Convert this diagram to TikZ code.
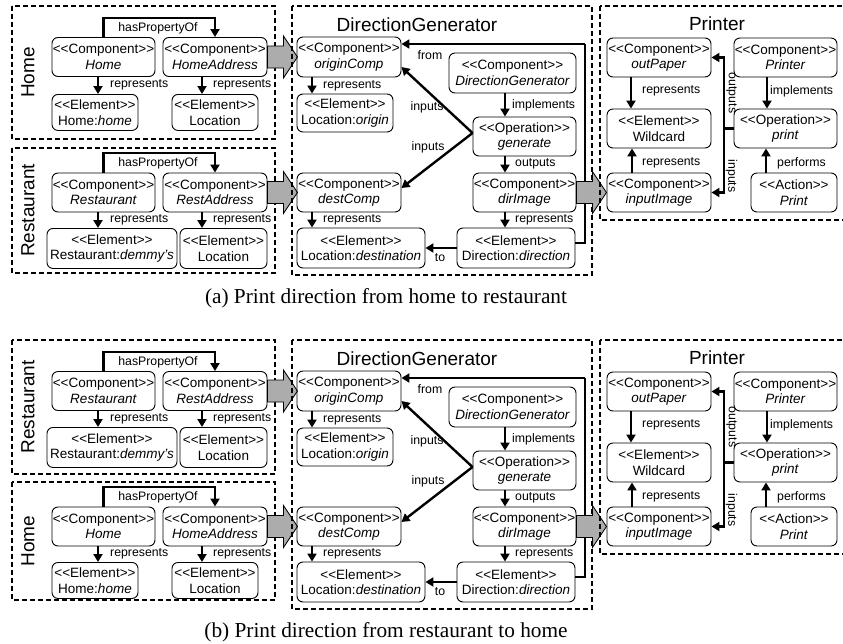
\documentclass[tikz,border=0pt]{standalone}
\usepackage{fontspec}
\setmainfont{Liberation Sans}[Ligatures=TeXOff]
\newfontfamily\capfont{Liberation Serif}
\usetikzlibrary{arrows.meta}
\tikzset{
 nbox/.style={draw, rounded corners=6pt, line width=0.9pt, align=center, inner sep=0pt, font=\fontsize{13.5}{15.5}\selectfont},
 conn/.style={line width=2.4pt, -{Triangle[length=8pt,width=9pt]}},
 plainln/.style={line width=2.4pt},
 thinln/.style={line width=1.2pt},
 lbl/.style={font=\fontsize{12.3}{13}\selectfont, inner sep=0pt},
 dbox/.style={draw, line width=1.8pt, dash pattern=on 5pt off 3pt},
 ttl/.style={font=\fontsize{19}{21}\selectfont, inner sep=0pt},
 barrow/.style={draw, fill=gray!65, line width=0.8pt, line join=miter},
 captxt/.style={font=\capfont\fontsize{21.3}{23}\selectfont, inner sep=0pt},
}
% block arrow from a node east anchor
\newcommand{\BlockArrow}[1]{%
  \draw[barrow] (#1) ++(0,-11) -- ++(16,0) -- ++(0,-10) -- ++(14,21) -- ++(-14,21) -- ++(0,-10) -- ++(-16,0) -- cycle;}
% #1 prefix, #2 box top, #3 box bottom, #4 line y, #5 comp center y, #6 elem top y
\newcommand{\HomePanel}[6]{%
  \draw[dbox] (12,#2) rectangle (275,#3);
  \node[ttl, rotate=90] (#1lab) at (28,{(#2+#3)/2}) {Home};
  \node[nbox, minimum width=103pt, minimum height=39pt] (#1c1) at (103.5,#5) {<<Component>>\\\textit{Home}};
  \node[nbox, minimum width=104pt, minimum height=39pt] (#1c2) at (215,#5) {<<Component>>\\\textit{HomeAddress}};
  \node[nbox, minimum width=86pt, minimum height=36pt, anchor=north] (#1e1) at (95,#6) {<<Element>>\\Home:\textit{home}};
  \node[nbox, minimum width=86pt, minimum height=36pt, anchor=north] (#1e2) at (215,#6) {<<Element>>\\Location};
  \coordinate (#1h1) at (103.5,#4); \coordinate (#1h2) at (215,#4);
  \draw[conn] (#1c1.north) -- (#1h1) -- (#1h2) -- (#1c2.north);
  \node[lbl] (#1hp) at (158,{#4+10}) {hasPropertyOf};
  \draw[conn] ([xshift=-5.5pt]#1c1.south) -- ([xshift=-5.5pt]#1c1.south |- #1e1.north);
  \draw[conn] ([xshift=-13pt]#1c2.south) -- ([xshift=-13pt]#1c2.south |- #1e2.north);
  \node[lbl, anchor=west] (#1r1) at (110,{(#5+19.5+#6)/2}) {represents};
  \node[lbl, anchor=west] (#1r2) at (213,{(#5+19.5+#6)/2}) {represents};
  \BlockArrow{#1c2.east}
}
\newcommand{\RestPanel}[6]{%
  \draw[dbox] (12,#2) rectangle (275,#3);
  \node[ttl, rotate=90] (#1lab) at (28,{(#2+#3)/2}) {Restaurant};
  \node[nbox, minimum width=103pt, minimum height=39pt] (#1c1) at (103.5,#5) {<<Component>>\\\textit{Restaurant}};
  \node[nbox, minimum width=104pt, minimum height=39pt] (#1c2) at (215,#5) {<<Component>>\\\textit{RestAddress}};
  \node[nbox, minimum width=130pt, minimum height=40pt, anchor=north] (#1e1) at (112,#6) {<<Element>>\\Restaurant:\textit{demmy’s}};
  \node[nbox, minimum width=87pt, minimum height=40pt, anchor=north] (#1e2) at (223.5,#6) {<<Element>>\\Location};
  \coordinate (#1h1) at (103.5,#4); \coordinate (#1h2) at (215,#4);
  \draw[conn] (#1c1.north) -- (#1h1) -- (#1h2) -- (#1c2.north);
  \node[lbl] (#1hp) at (158,{#4+10}) {hasPropertyOf};
  \draw[conn] ([xshift=-5.5pt]#1c1.south) -- ([xshift=-5.5pt]#1c1.south |- #1e1.north);
  \draw[conn] ([xshift=-13pt]#1c2.south) -- ([xshift=-13pt]#1c2.south |- #1e2.north);
  \node[lbl, anchor=west] (#1r1) at (110,{(#5+19.5+#6)/2}) {represents};
  \node[lbl, anchor=west] (#1r2) at (213,{(#5+19.5+#6)/2}) {represents};
  \BlockArrow{#1c2.east}
}
\newcommand{\DGPanel}[1]{%
  \draw[dbox] (292,6) rectangle (592,275);
  \node[ttl] (#1t) at (417,25) {DirectionGenerator};
  \node[nbox, minimum width=104pt, minimum height=40pt] (#1oc) at (349,57) {<<Component>>\\\textit{originComp}};
  \node[nbox, minimum width=96pt, minimum height=38pt] (#1lo) at (345,113) {<<Element>>\\Location:\textit{origin}};
  \node[nbox, minimum width=127pt, minimum height=40pt] (#1dg) at (512.5,73) {<<Component>>\\\textit{DirectionGenerator}};
  \node[nbox, minimum width=103pt, minimum height=39pt] (#1ge) at (524.5,136.5) {<<Operation>>\\\textit{generate}};
  \node[nbox, minimum width=104pt, minimum height=39pt] (#1dc) at (349,192.5) {<<Component>>\\\textit{destComp}};
  \node[nbox, minimum width=103pt, minimum height=39pt] (#1di) at (524.5,192.5) {<<Component>>\\\textit{dirImage}};
  \node[nbox, minimum width=128pt, minimum height=40pt] (#1ld) at (361,248) {<<Element>>\\Location:\textit{destination}};
  \node[nbox, minimum width=118pt, minimum height=40pt] (#1dd) at (516,248) {<<Element>>\\Direction:\textit{direction}};
  \draw[conn] ([xshift=-37pt]#1oc.south) -- ([xshift=-37pt]#1oc.south |- #1lo.north);
  \node[lbl, anchor=west] (#1l1) at (323,86) {represents};
  \draw[conn] ([xshift=-7.5pt]#1dg.south) -- ([xshift=-7.5pt]#1dg.south |- #1ge.north);
  \node[lbl, anchor=west] (#1l2) at (512,105.5) {implements};
  \draw[conn] ([xshift=-19.5pt]#1ge.south) -- ([xshift=-19.5pt]#1ge.south |- #1di.north);
  \node[lbl, anchor=west] (#1l3) at (515,164) {outputs};
  \draw[conn] ([xshift=-19.5pt]#1di.south) -- ([xshift=-19.5pt]#1di.south |- #1dd.north);
  \node[lbl, anchor=west] (#1l4) at (515,220) {represents};
  \draw[conn] ([xshift=-37pt]#1dc.south) -- ([xshift=-37pt]#1dc.south |- #1ld.north);
  \node[lbl, anchor=west] (#1l5) at (323,220) {represents};
  \draw[conn] (#1dd.west) -- (#1dd.west -| #1ld.east);
  \node[lbl] (#1l6) at (440,258) {to};
  \coordinate (#1fr) at (585,44);
  \draw[thinln] ([yshift=5pt]#1dd.east) -| (#1fr);
  \draw[conn] (#1fr) -- (#1fr -| #1oc.east);
  \node[lbl] (#1l7) at (430,55) {from};
  \draw[conn] ([yshift=3.5pt]#1ge.west) -- ([yshift=-10pt]#1oc.east);
  \node[lbl] (#1l8) at (427,107) {inputs};
  \draw[conn] ([yshift=3.5pt]#1ge.west) -- ([yshift=4.5pt]#1dc.east);
  \node[lbl] (#1l9) at (428,147) {inputs};
  \BlockArrow{#1di.east}
  % Printer
  \draw[dbox] (600,6) rectangle (847,220);
  \node[ttl] (#1pt) at (717,24) {Printer};
  \node[nbox, minimum width=104pt, minimum height=39pt] (#1op) at (659,57.5) {<<Component>>\\\textit{outPaper}};
  \node[nbox, minimum width=103pt, minimum height=39pt] (#1pc) at (785.5,57.5) {<<Component>>\\\textit{Printer}};
  \node[nbox, minimum width=104pt, minimum height=39pt] (#1wc) at (659,128.5) {<<Element>>\\Wildcard};
  \node[nbox, minimum width=103pt, minimum height=39pt] (#1pr) at (785.5,128.5) {<<Operation>>\\\textit{print}};
  \node[nbox, minimum width=104pt, minimum height=39pt] (#1ii) at (659,192.5) {<<Component>>\\\textit{inputImage}};
  \node[nbox, minimum width=86pt, minimum height=39pt] (#1pa) at (794,192.5) {<<Action>>\\\textit{Print}};
  \draw[conn] ([xshift=-28pt]#1op.south) -- ([xshift=-28pt]#1op.south |- #1wc.north);
  \node[lbl, anchor=west] (#1m1) at (642,91) {represents};
  \draw[conn] ([xshift=-18.5pt]#1pc.south) -- ([xshift=-18.5pt]#1pc.south |- #1pr.north);
  \node[lbl, anchor=west] (#1m2) at (770,91) {implements};
  \draw[conn] ([xshift=-27pt]#1ii.north) -- ([xshift=-27pt]#1ii.north |- #1wc.south);
  \node[lbl, anchor=west] (#1m3) at (642,163) {represents};
  \draw[conn] ([xshift=-28pt]#1pa.north) -- ([xshift=-28pt]#1pa.north |- #1pr.south);
  \node[lbl, anchor=west] (#1m4) at (777,163) {performs};
  \coordinate (#1pj) at (724,128.5);
  \draw[plainln] (#1pr.west) -- (#1pj);
  \draw[conn] (#1pj) |- (#1op.east);
  \draw[conn] (#1pj) |- (#1ii.east);
  \node[lbl, rotate=-90] (#1m5) at (731.5,93) {outputs};
  \node[lbl, rotate=-90] (#1m6) at (731.5,176) {inputs};
}
\begin{document}
\begin{tikzpicture}[x=1pt,y=-1pt]
\useasboundingbox (0,0) rectangle (843,643);
% panel (a)
\HomePanel{a}{6}{139}{18}{57}{94}
\RestPanel{b}{148}{273}{153}{192.5}{228}
\DGPanel{c}
\node[captxt] (capa) at (386,298) {(a) Print direction from home to restaurant};
% panel (b)
\begin{scope}[yshift=-334pt]
\RestPanel{d}{6}{140}{18}{57}{93}
\HomePanel{e}{148}{266}{153}{192.5}{228}
\DGPanel{f}
\end{scope}
\node[captxt] (capb) at (386,632) {(b) Print direction from restaurant to home};
\end{tikzpicture}
\end{document}
